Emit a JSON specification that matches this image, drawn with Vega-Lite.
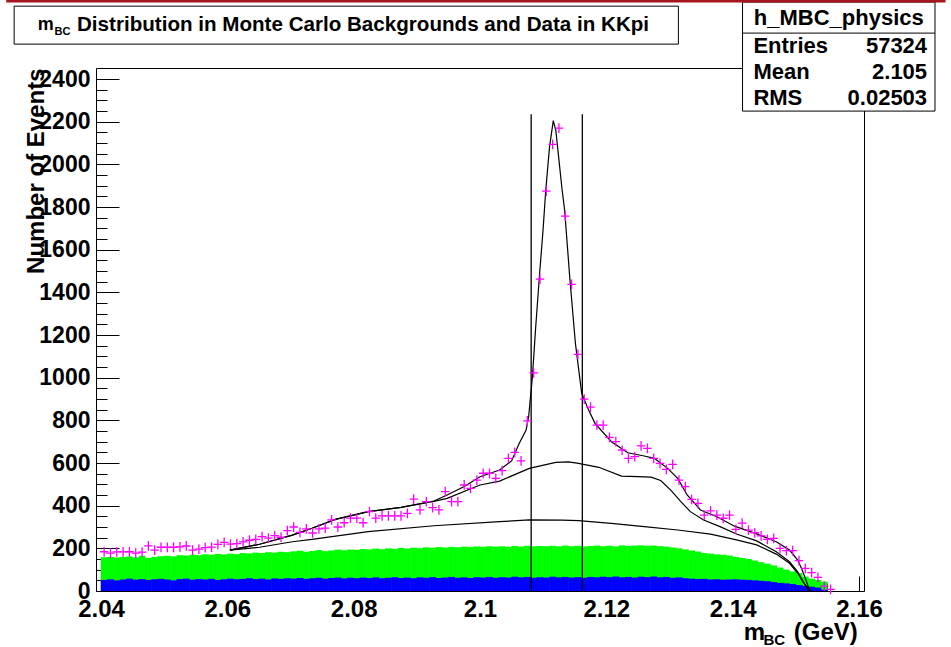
{
  "$schema": "https://vega.github.io/schema/vega-lite/v6.json",
  "width": 768,
  "height": 523,
  "autosize": "none",
  "padding": {"left": 96, "top": 68, "right": 87, "bottom": 56},
  "background": "white",
  "config": {"view": {"stroke": "black", "strokeWidth": 1}, "text": {"font": "Liberation Sans", "fontWeight": "bold", "color": "black"}},
  "datasets": {
    "bins": [
      {"m":2.0405,"n":184,"g":158,"b":52},{"m":2.0415,"n":178,"g":160,"b":55},{"m":2.0425,"n":183,"g":157,"b":50},{"m":2.0435,"n":183,"g":160,"b":54},{"m":2.0445,"n":184,"g":162,"b":58},
      {"m":2.0455,"n":178,"g":158,"b":53},{"m":2.0465,"n":182,"g":165,"b":56},{"m":2.0475,"n":212,"g":155,"b":52},{"m":2.0485,"n":192,"g":160,"b":55},{"m":2.0495,"n":205,"g":163,"b":57},
      {"m":2.0505,"n":205,"g":165,"b":54},{"m":2.0515,"n":205,"g":162,"b":50},{"m":2.0525,"n":207,"g":168,"b":56},{"m":2.0535,"n":211,"g":166,"b":58},{"m":2.0545,"n":192,"g":170,"b":53},
      {"m":2.0555,"n":196,"g":168,"b":56},{"m":2.0565,"n":203,"g":172,"b":54},{"m":2.0575,"n":206,"g":170,"b":57},{"m":2.0585,"n":219,"g":174,"b":52},{"m":2.0595,"n":228,"g":171,"b":55},
      {"m":2.0605,"n":220,"g":175,"b":58},{"m":2.0615,"n":222,"g":173,"b":55},{"m":2.0625,"n":230,"g":178,"b":57},{"m":2.0635,"n":238,"g":176,"b":60},{"m":2.0645,"n":242,"g":180,"b":56},
      {"m":2.0655,"n":255,"g":178,"b":58},{"m":2.0665,"n":248,"g":182,"b":54},{"m":2.0675,"n":260,"g":180,"b":59},{"m":2.0685,"n":252,"g":184,"b":57},{"m":2.0695,"n":283,"g":182,"b":60},
      {"m":2.0705,"n":300,"g":186,"b":58},{"m":2.0715,"n":275,"g":189,"b":61},{"m":2.0725,"n":291,"g":184,"b":57},{"m":2.0735,"n":272,"g":188,"b":60},{"m":2.0745,"n":291,"g":192,"b":62},
      {"m":2.0755,"n":295,"g":187,"b":58},{"m":2.0765,"n":333,"g":190,"b":61},{"m":2.0775,"n":300,"g":194,"b":63},{"m":2.0785,"n":320,"g":191,"b":59},{"m":2.0795,"n":342,"g":195,"b":62},
      {"m":2.0805,"n":342,"g":193,"b":60},{"m":2.0815,"n":320,"g":197,"b":63},{"m":2.0825,"n":372,"g":195,"b":61},{"m":2.0835,"n":342,"g":199,"b":64},{"m":2.0845,"n":352,"g":196,"b":60},
      {"m":2.0855,"n":352,"g":200,"b":62},{"m":2.0865,"n":352,"g":198,"b":65},{"m":2.0875,"n":352,"g":202,"b":61},{"m":2.0885,"n":364,"g":199,"b":63},{"m":2.0895,"n":431,"g":203,"b":60},
      {"m":2.0905,"n":380,"g":201,"b":64},{"m":2.0915,"n":419,"g":205,"b":62},{"m":2.0925,"n":391,"g":203,"b":65},{"m":2.0935,"n":380,"g":206,"b":61},{"m":2.0945,"n":466,"g":204,"b":63},
      {"m":2.0955,"n":419,"g":207,"b":66},{"m":2.0965,"n":419,"g":205,"b":62},{"m":2.0975,"n":497,"g":208,"b":64},{"m":2.0985,"n":481,"g":206,"b":61},{"m":2.0995,"n":520,"g":209,"b":65},
      {"m":2.1005,"n":552,"g":207,"b":63},{"m":2.1015,"n":552,"g":210,"b":66},{"m":2.1025,"n":528,"g":208,"b":62},{"m":2.1035,"n":564,"g":210,"b":65},{"m":2.1045,"n":622,"g":207,"b":63},
      {"m":2.1055,"n":650,"g":211,"b":67},{"m":2.1065,"n":610,"g":208,"b":64},{"m":2.1075,"n":798,"g":212,"b":66},{"m":2.1085,"n":1023,"g":209,"b":62},{"m":2.1095,"n":1462,"g":211,"b":65},
      {"m":2.1105,"n":1875,"g":210,"b":63},{"m":2.1115,"n":2094,"g":212,"b":67},{"m":2.1125,"n":2170,"g":209,"b":64},{"m":2.1135,"n":1758,"g":213,"b":66},{"m":2.1145,"n":1438,"g":210,"b":63},
      {"m":2.1155,"n":1109,"g":212,"b":65},{"m":2.1165,"n":900,"g":209,"b":62},{"m":2.1175,"n":862,"g":211,"b":66},{"m":2.1185,"n":778,"g":213,"b":64},{"m":2.1195,"n":778,"g":210,"b":67},
      {"m":2.1205,"n":720,"g":212,"b":65},{"m":2.1215,"n":700,"g":209,"b":68},{"m":2.1225,"n":661,"g":214,"b":64},{"m":2.1235,"n":622,"g":211,"b":66},{"m":2.1245,"n":630,"g":213,"b":63},
      {"m":2.1255,"n":680,"g":214,"b":67},{"m":2.1265,"n":669,"g":212,"b":65},{"m":2.1275,"n":622,"g":213,"b":68},{"m":2.1285,"n":598,"g":210,"b":64},{"m":2.1295,"n":570,"g":208,"b":66},
      {"m":2.1305,"n":594,"g":204,"b":62},{"m":2.1315,"n":520,"g":200,"b":64},{"m":2.1325,"n":489,"g":195,"b":60},{"m":2.1335,"n":430,"g":190,"b":58},{"m":2.1345,"n":411,"g":185,"b":56},
      {"m":2.1355,"n":356,"g":178,"b":57},{"m":2.1365,"n":376,"g":175,"b":54},{"m":2.1375,"n":356,"g":172,"b":55},{"m":2.1385,"n":341,"g":170,"b":53},{"m":2.1395,"n":356,"g":166,"b":54},
      {"m":2.1405,"n":289,"g":160,"b":55},{"m":2.1415,"n":318,"g":155,"b":53},{"m":2.1425,"n":285,"g":150,"b":52},{"m":2.1435,"n":273,"g":143,"b":50},{"m":2.1445,"n":258,"g":135,"b":48},
      {"m":2.1455,"n":242,"g":128,"b":46},{"m":2.1465,"n":247,"g":120,"b":42},{"m":2.1475,"n":200,"g":110,"b":38},{"m":2.1485,"n":189,"g":100,"b":36},{"m":2.1495,"n":189,"g":92,"b":33},
      {"m":2.1505,"n":142,"g":84,"b":28},{"m":2.1515,"n":106,"g":68,"b":24},{"m":2.1525,"n":86,"g":58,"b":20},{"m":2.1535,"n":64,"g":52,"b":16},{"m":2.1545,"n":23,"g":44,"b":6},
      {"m":2.1555,"n":8,"g":0,"b":0},{"m":2.1565,"n":0,"g":0,"b":0},{"m":2.1575,"n":0,"g":0,"b":0},{"m":2.1585,"n":0,"g":0,"b":0},{"m":2.1595,"n":0,"g":0,"b":0}
    ],
    "curves": [
      {"x":2.0604,"y":192,"c":"T"},{"x":2.0651,"y":219,"c":"T"},{"x":2.0703,"y":262,"c":"T"},{"x":2.0734,"y":294,"c":"T"},{"x":2.0771,"y":336,"c":"T"},{"x":2.0823,"y":372,"c":"T"},{"x":2.0875,"y":392,"c":"T"},{"x":2.0927,"y":422,"c":"T"},{"x":2.0948,"y":450,"c":"T"},{"x":2.0975,"y":490,"c":"T"},{"x":2.1,"y":536,"c":"T"},{"x":2.1031,"y":567,"c":"T"},{"x":2.105,"y":610,"c":"T"},{"x":2.1062,"y":692,"c":"T"},{"x":2.1073,"y":755,"c":"T"},{"x":2.1077,"y":817,"c":"T"},{"x":2.1083,"y":1005,"c":"T"},{"x":2.1088,"y":1230,"c":"T"},{"x":2.1094,"y":1473,"c":"T"},{"x":2.11,"y":1700,"c":"T"},{"x":2.1104,"y":1875,"c":"T"},{"x":2.111,"y":2080,"c":"T"},{"x":2.1116,"y":2205,"c":"T"},{"x":2.112,"y":2160,"c":"T"},{"x":2.1125,"y":2020,"c":"T"},{"x":2.113,"y":1880,"c":"T"},{"x":2.1134,"y":1786,"c":"T"},{"x":2.1142,"y":1473,"c":"T"},{"x":2.1151,"y":1162,"c":"T"},{"x":2.1161,"y":927,"c":"T"},{"x":2.1172,"y":848,"c":"T"},{"x":2.1182,"y":786,"c":"T"},{"x":2.1208,"y":700,"c":"T"},{"x":2.1234,"y":648,"c":"T"},{"x":2.126,"y":633,"c":"T"},{"x":2.1276,"y":622,"c":"T"},{"x":2.1297,"y":575,"c":"T"},{"x":2.1313,"y":528,"c":"T"},{"x":2.1328,"y":450,"c":"T"},{"x":2.1349,"y":380,"c":"T"},{"x":2.1375,"y":348,"c":"T"},{"x":2.1403,"y":304,"c":"T"},{"x":2.1438,"y":268,"c":"T"},{"x":2.1469,"y":231,"c":"T"},{"x":2.149,"y":192,"c":"T"},{"x":2.1503,"y":145,"c":"T"},{"x":2.151,"y":98,"c":"T"},{"x":2.1516,"y":52,"c":"T"},{"x":2.1521,"y":8,"c":"T"},{"x":2.1523,"y":0,"c":"T"},
      {"x":2.0604,"y":192,"c":"M"},{"x":2.0651,"y":219,"c":"M"},{"x":2.0703,"y":262,"c":"M"},{"x":2.0734,"y":294,"c":"M"},{"x":2.0771,"y":336,"c":"M"},{"x":2.0823,"y":372,"c":"M"},{"x":2.0875,"y":392,"c":"M"},{"x":2.0927,"y":420,"c":"M"},{"x":2.0948,"y":434,"c":"M"},{"x":2.1,"y":497,"c":"M"},{"x":2.1031,"y":515,"c":"M"},{"x":2.1078,"y":575,"c":"M"},{"x":2.112,"y":603,"c":"M"},{"x":2.114,"y":605,"c":"M"},{"x":2.1156,"y":598,"c":"M"},{"x":2.1188,"y":580,"c":"M"},{"x":2.1224,"y":539,"c":"M"},{"x":2.125,"y":536,"c":"M"},{"x":2.1271,"y":534,"c":"M"},{"x":2.1286,"y":518,"c":"M"},{"x":2.1302,"y":473,"c":"M"},{"x":2.1318,"y":419,"c":"M"},{"x":2.1333,"y":372,"c":"M"},{"x":2.1354,"y":333,"c":"M"},{"x":2.138,"y":302,"c":"M"},{"x":2.1406,"y":267,"c":"M"},{"x":2.1438,"y":235,"c":"M"},{"x":2.1469,"y":184,"c":"M"},{"x":2.149,"y":137,"c":"M"},{"x":2.1503,"y":90,"c":"M"},{"x":2.151,"y":52,"c":"M"},{"x":2.1518,"y":13,"c":"M"},{"x":2.1522,"y":0,"c":"M"},
      {"x":2.0604,"y":192,"c":"L"},{"x":2.0651,"y":205,"c":"L"},{"x":2.0703,"y":231,"c":"L"},{"x":2.0734,"y":242,"c":"L"},{"x":2.0823,"y":278,"c":"L"},{"x":2.0927,"y":306,"c":"L"},{"x":2.1031,"y":325,"c":"L"},{"x":2.1078,"y":333,"c":"L"},{"x":2.113,"y":332,"c":"L"},{"x":2.1156,"y":330,"c":"L"},{"x":2.1208,"y":317,"c":"L"},{"x":2.126,"y":302,"c":"L"},{"x":2.1313,"y":286,"c":"L"},{"x":2.1365,"y":267,"c":"L"},{"x":2.1406,"y":240,"c":"L"},{"x":2.1438,"y":216,"c":"L"},{"x":2.1469,"y":173,"c":"L"},{"x":2.149,"y":130,"c":"L"},{"x":2.1503,"y":83,"c":"L"},{"x":2.1513,"y":36,"c":"L"},{"x":2.1521,"y":8,"c":"L"},{"x":2.1523,"y":0,"c":"L"}
    ],
    "cuts": [{"cut": 2.1081}, {"cut": 2.1162}],
    "one": [{}]
  },
  "resolve": {"axis": {"x": "independent", "y": "independent"}},
  "layer": [
    {
      "data": {"name": "bins"},
      "mark": {"type": "bar", "orient": "vertical", "width": 6.8, "color": "#00ff00"},
      "encoding": {
        "x": {"field": "m", "type": "quantitative", "scale": {"domain": [2.04, 2.16], "nice": false, "zero": false},
          "axis": {"orient": "bottom", "values": [2.04, 2.06, 2.08, 2.1, 2.12, 2.14, 2.16], "format": "~g", "tickSize": -15, "tickColor": "black", "tickWidth": 1, "domain": false, "grid": false, "title": null,
            "labelFont": "Liberation Sans", "labelFontWeight": "bold", "labelFontSize": 24, "labelColor": "black", "labelPadding": 21, "labelFlush": false, "labelOverlap": false}},
        "y": {"field": "g", "type": "quantitative", "scale": {"domain": [0, 2452], "nice": false},
          "axis": {"orient": "left", "values": [0, 200, 400, 600, 800, 1000, 1200, 1400, 1600, 1800, 2000, 2200, 2400], "format": "d", "tickSize": -23, "tickColor": "black", "tickWidth": 1, "domain": false, "grid": false,
            "labelFont": "Liberation Sans", "labelFontWeight": "bold", "labelFontSize": 23, "labelColor": "black", "labelPadding": 29, "labelOverlap": false,
            "title": "Number of Events", "titleFont": "Liberation Sans", "titleFontWeight": "bold", "titleFontSize": 24, "titleColor": "black", "titleAngle": -90, "titleX": -60, "titleY": 0, "titleAlign": "right", "titleBaseline": "middle"}}
      }
    },
    {
      "data": {"name": "bins"},
      "mark": {"type": "bar", "orient": "vertical", "width": 6.8, "color": "#0000ff"},
      "encoding": {
        "x": {"field": "m", "type": "quantitative",
          "axis": {"orient": "bottom", "values": [2.045, 2.05, 2.055, 2.065, 2.07, 2.075, 2.085, 2.09, 2.095, 2.105, 2.11, 2.115, 2.125, 2.13, 2.135, 2.145, 2.15, 2.155], "labels": false, "tickSize": -8, "tickColor": "black", "domain": false, "grid": false, "title": null}},
        "y": {"field": "b", "type": "quantitative",
          "axis": {"orient": "left", "values": [50, 100, 150, 250, 300, 350, 450, 500, 550, 650, 700, 750, 850, 900, 950, 1050, 1100, 1150, 1250, 1300, 1350, 1450, 1500, 1550, 1650, 1700, 1750, 1850, 1900, 1950, 2050, 2100, 2150, 2250, 2300, 2350], "labels": false, "tickSize": -11, "tickColor": "black", "domain": false, "grid": false, "title": null}}
      }
    },
    {
      "data": {"name": "curves"},
      "mark": {"type": "line", "color": "black", "strokeWidth": 1.2},
      "encoding": {
        "x": {"field": "x", "type": "quantitative", "axis": null},
        "y": {"field": "y", "type": "quantitative", "axis": null},
        "detail": {"field": "c"}
      }
    },
    {
      "data": {"name": "cuts"},
      "mark": {"type": "rule", "color": "black", "strokeWidth": 1.3},
      "encoding": {
        "x": {"field": "cut", "type": "quantitative", "axis": null},
        "y": {"datum": 0, "axis": null},
        "y2": {"datum": 2235}
      }
    },
    {
      "data": {"name": "bins"},
      "transform": [{"filter": "datum.n > 0"}],
      "mark": {"type": "point", "shape": "M-1,0H1M0,-1.15V1.15", "size": 72, "filled": false, "stroke": "#ff00ff", "strokeWidth": 1.3, "opacity": 1},
      "encoding": {
        "x": {"field": "m", "type": "quantitative", "axis": null},
        "y": {"field": "n", "type": "quantitative", "axis": null}
      }
    },
    {
      "data": {"name": "one"},
      "mark": {"type": "rect", "fill": "white", "stroke": "black", "strokeWidth": 1},
      "encoding": {
        "x": {"datum": 2.02625, "axis": null}, "x2": {"datum": 2.131406},
        "y": {"datum": 2742, "axis": null}, "y2": {"datum": 2564}
      }
    },
    {
      "data": {"name": "one"},
      "mark": {"type": "text", "text": "m", "fontSize": 18, "align": "left", "baseline": "middle"},
      "encoding": {"x": {"datum": 2.03, "axis": null}, "y": {"datum": 2655, "axis": null}}
    },
    {
      "data": {"name": "one"},
      "mark": {"type": "text", "text": "BC", "fontSize": 11, "align": "left", "baseline": "middle"},
      "encoding": {"x": {"datum": 2.03265, "axis": null}, "y": {"datum": 2620, "axis": null}}
    },
    {
      "data": {"name": "one"},
      "mark": {"type": "text", "text": "Distribution in Monte Carlo Backgrounds and Data in KKpi", "fontSize": 20.6, "align": "left", "baseline": "middle"},
      "encoding": {"x": {"datum": 2.0362, "axis": null}, "y": {"datum": 2655, "axis": null}}
    },
    {
      "data": {"name": "one"},
      "mark": {"type": "rect", "fill": "white", "stroke": "black", "strokeWidth": 1},
      "encoding": {
        "x": {"datum": 2.141563, "axis": null}, "x2": {"datum": 2.172031},
        "y": {"datum": 2761, "axis": null}, "y2": {"datum": 2250}
      }
    },
    {
      "data": {"name": "one"},
      "mark": {"type": "rule", "color": "black", "strokeWidth": 1},
      "encoding": {
        "x": {"datum": 2.141563, "axis": null}, "x2": {"datum": 2.172031},
        "y": {"datum": 2615.6, "axis": null}
      }
    },
    {
      "data": {"name": "one"},
      "mark": {"type": "text", "text": "h_MBC_physics", "fontSize": 22, "align": "center", "baseline": "middle"},
      "encoding": {"x": {"datum": 2.156797, "axis": null}, "y": {"datum": 2686, "axis": null}}
    },
    {
      "data": {"name": "one"},
      "mark": {"type": "text", "text": "Entries", "fontSize": 22, "align": "left", "baseline": "middle"},
      "encoding": {"x": {"datum": 2.143281, "axis": null}, "y": {"datum": 2555, "axis": null}}
    },
    {
      "data": {"name": "one"},
      "mark": {"type": "text", "text": "57324", "fontSize": 22, "align": "right", "baseline": "middle"},
      "encoding": {"x": {"datum": 2.170781, "axis": null}, "y": {"datum": 2555, "axis": null}}
    },
    {
      "data": {"name": "one"},
      "mark": {"type": "text", "text": "Mean", "fontSize": 22, "align": "left", "baseline": "middle"},
      "encoding": {"x": {"datum": 2.143281, "axis": null}, "y": {"datum": 2433, "axis": null}}
    },
    {
      "data": {"name": "one"},
      "mark": {"type": "text", "text": "2.105", "fontSize": 22, "align": "right", "baseline": "middle"},
      "encoding": {"x": {"datum": 2.170781, "axis": null}, "y": {"datum": 2433, "axis": null}}
    },
    {
      "data": {"name": "one"},
      "mark": {"type": "text", "text": "RMS", "fontSize": 22, "align": "left", "baseline": "middle"},
      "encoding": {"x": {"datum": 2.143281, "axis": null}, "y": {"datum": 2311, "axis": null}}
    },
    {
      "data": {"name": "one"},
      "mark": {"type": "text", "text": "0.02503", "fontSize": 22, "align": "right", "baseline": "middle"},
      "encoding": {"x": {"datum": 2.170781, "axis": null}, "y": {"datum": 2311, "axis": null}}
    },
    {
      "data": {"name": "one"},
      "mark": {"type": "text", "text": "m", "fontSize": 24, "align": "left", "baseline": "middle"},
      "encoding": {"x": {"datum": 2.14175, "axis": null}, "y": {"datum": -197, "axis": null}}
    },
    {
      "data": {"name": "one"},
      "mark": {"type": "text", "text": "BC", "fontSize": 15, "align": "left", "baseline": "middle"},
      "encoding": {"x": {"datum": 2.14488, "axis": null}, "y": {"datum": -232, "axis": null}}
    },
    {
      "data": {"name": "one"},
      "mark": {"type": "text", "text": "(GeV)", "fontSize": 24, "align": "right", "baseline": "middle"},
      "encoding": {"x": {"datum": 2.1598, "axis": null}, "y": {"datum": -197, "axis": null}}
    },
    {
      "data": {"name": "one"},
      "mark": {"type": "rule", "color": "#a5151c", "strokeWidth": 3},
      "encoding": {
        "x": {"datum": 2.025, "axis": null}, "x2": {"datum": 2.1737},
        "y": {"datum": 2766, "axis": null}
      }
    }
  ]
}
